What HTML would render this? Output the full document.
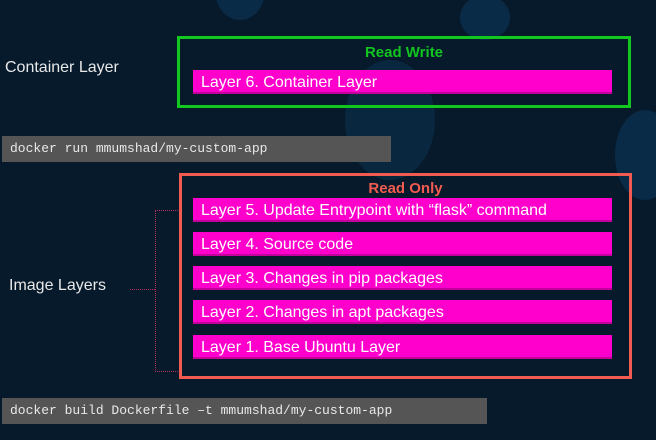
<!DOCTYPE html>
<html><head><style>
body{margin:0;width:656px;height:440px;overflow:hidden;background:#061a2c;font-family:"Liberation Sans",sans-serif;position:relative}
.a{position:absolute}
.blob{position:absolute;border-radius:50%;background:#0a2b47}
.bar{position:absolute;left:193px;width:419px;height:24px;background:#ff00cc;color:#fff;font-size:16px;line-height:25px;padding-left:8px;box-sizing:border-box;border-bottom:2px solid #c4009c}
.cmd{position:absolute;left:2px;height:26px;background:#555;color:#e8e8e8;font-family:"Liberation Mono",monospace;font-size:13px;line-height:26px;padding-left:8px;box-sizing:border-box}
</style></head><body>
<div class="blob" style="left:215px;top:-40px;width:50px;height:60px"></div>
<div class="blob" style="left:460px;top:-5px;width:50px;height:45px"></div>
<div class="blob" style="left:345px;top:60px;width:90px;height:120px;background:#09283f"></div>
<div class="blob" style="left:615px;top:110px;width:60px;height:90px"></div>
<div class="a" style="left:177px;top:36px;width:448px;height:66px;border:3px solid #10c81e"></div>
<div class="a" style="left:177px;top:44px;width:454px;text-align:center;color:#12c41f;font-weight:bold;font-size:15px">Read Write</div>
<div class="a" style="left:5px;top:59px;color:#e8e8e8;font-size:16px">Container Layer</div>
<div class="bar" style="top:70px">Layer 6. Container Layer</div>
<div class="cmd" style="top:136px;width:389px">docker run mmumshad/my-custom-app</div>
<div class="a" style="left:179px;top:173px;width:447px;height:200px;border:3px solid #f25c50"></div>
<div class="a" style="left:179px;top:180px;width:453px;text-align:center;color:#f25c50;font-weight:bold;font-size:15px">Read Only</div>
<div class="bar" style="top:198px">Layer 5. Update Entrypoint with “flask” command</div>
<div class="bar" style="top:232px">Layer 4. Source code</div>
<div class="bar" style="top:266px">Layer 3. Changes in pip packages</div>
<div class="bar" style="top:300px">Layer 2. Changes in apt packages</div>
<div class="bar" style="top:335px">Layer 1. Base Ubuntu Layer</div>
<div class="a" style="left:155px;top:210px;width:22px;height:160px;border:1px dotted #b03060;border-right:none"></div>
<div class="a" style="left:130px;top:289px;width:25px;border-top:1px dotted #b03060"></div>
<div class="a" style="left:9px;top:277px;color:#e8e8e8;font-size:16px">Image Layers</div>
<div class="cmd" style="top:398px;width:485px">docker build Dockerfile –t mmumshad/my-custom-app</div>
</body></html>
